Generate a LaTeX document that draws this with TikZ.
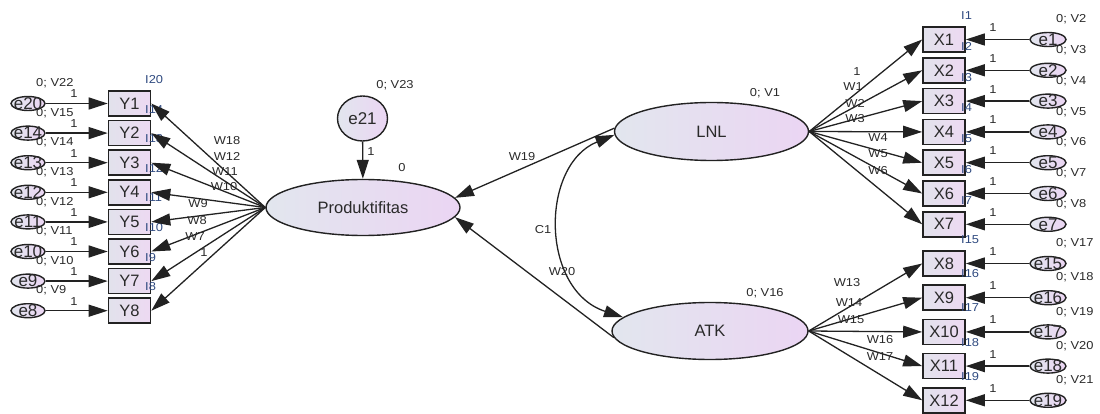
\documentclass[tikz,border=0pt]{standalone}
\usepackage{fontspec}
\setmainfont{Liberation Sans}
\newfontfamily\lblf[FakeStretch=1.12]{Liberation Sans}
\usetikzlibrary{arrows.meta,shapes.geometric,calc}
\definecolor{boxL}{HTML}{E2E2EC}
\definecolor{boxR}{HTML}{EDD9F2}
\definecolor{latL}{HTML}{E2E6EE}
\definecolor{latR}{HTML}{EBD5F3}
\definecolor{lnc}{HTML}{222222}
\definecolor{txt}{HTML}{2A2A2A}
\definecolor{icpt}{HTML}{2F4A80}
\tikzset{
  obsbox/.style={draw=lnc, line width=1.6pt, rectangle, minimum width=42pt, minimum height=25pt, inner sep=0pt, left color=boxL, right color=boxR, font=\fontsize{16.5}{18}\selectfont, text=txt},
  errell/.style={draw=lnc, line width=1.4pt, ellipse, minimum width=34pt, minimum height=14pt, inner sep=0pt, left color=latL, right color=latR},
  errtxt/.style={font=\fontsize{17}{18}\selectfont, text=txt, inner sep=0pt},
  latell/.style={draw=lnc, line width=1.4pt, ellipse, minimum width=194pt, minimum height=56pt, inner sep=0pt, left color=latL, right color=latR, font=\fontsize{16.5}{18}\selectfont, text=txt},
  arr/.style={line width=1.3pt, draw=lnc, -{Triangle[length=19pt,width=12pt]}},
  dblarr/.style={line width=1.3pt, draw=lnc, {Triangle[length=19pt,width=12pt]}-{Triangle[length=19pt,width=12pt]}},
  lbl/.style={font=\lblf\fontsize{11.5}{12}\selectfont, text=txt, inner sep=0pt},
  ilbl/.style={lbl, text=icpt, anchor=west}
}
\begin{document}
\begin{tikzpicture}[x=1pt,y=-1pt]
\useasboundingbox (0,0) rectangle (1100,414);
% latent variables
\node[latell] (Prod) at (363,207.5) {Produktifitas};
\node[latell, minimum height=58pt] (LNL) at (711.5,131.5) {LNL};
\node[latell, minimum width=196pt, minimum height=57pt] (ATK) at (710,331) {ATK};
\node[errell, minimum width=50pt, minimum height=45pt, label={[errtxt]center:e21}] (e21) at (362.5,118.5) {};
\node[lbl] (v23) at (395,85) {0; V23};
\node[lbl] (o21) at (371,152) {1};
\node[lbl] (p0) at (402,168) {0};
\node[lbl] (v1) at (765,93) {0; V1};
\node[lbl] (v16) at (765,293) {0; V16};
\draw[arr] (e21) -- (Prod);
% left indicators
\foreach \n/\e/\v/\ic/\y in {1/e20/V22/I20/103.5, 2/e14/V15/I14/133.1, 3/e13/V14/I13/162.7, 4/e12/V13/I12/192.3, 5/e11/V12/I11/221.9, 6/e10/V11/I10/251.5, 7/e9/V10/I9/281.1, 8/e8/V9/I8/310.7}{
  \node[obsbox] (Y\n) at (129.5,\y) {Y\n};
  \node[errell, label={[errtxt]center:\e}] (\e) at (28,\y) {};
  \node[lbl, anchor=west] (v\e) at (36,\y-20) {0; \v};
  \node[lbl] (o\e) at (74,\y-9.5) {1};
  \node[ilbl] (iY\n) at (145,\y-24) {\ic};
}
\foreach \n/\e in {1/e20,2/e14,3/e13,4/e12,5/e11,6/e10,7/e9,8/e8}{
  \draw[arr] (\e) -- (Y\n);
}
\foreach \n/\w/\x/\y in {1/W18/227/141, 2/W12/227/156, 3/W11/225/172, 4/W10/224/187, 5/W9/198/204, 6/W8/197/221, 7/W7/195/237, 8/1/204/253}{
  \draw[arr] (Prod.west) -- (Y\n.east);
  \node[lbl] (wY\n) at (\x,\y) {\w};
}
% right indicators
\foreach \n/\e/\v/\ic/\y in {1/e1/V2/I1/39.5, 2/e2/V3/I2/70.3, 3/e3/V4/I3/101.1, 4/e4/V5/I4/131.9, 5/e5/V6/I5/162.7, 6/e6/V7/I6/193.5, 7/e7/V8/I7/224.3, 8/e15/V17/I15/263.5, 9/e16/V18/I16/297.7, 10/e17/V19/I17/331.9, 11/e18/V20/I18/366.1, 12/e19/V21/I19/400.3}{
  \node[obsbox] (X\n) at (944,\y) {X\n};
  \node[errell, minimum width=36pt, label={[errtxt]center:\e}] (\e) at (1048,\y) {};
  \node[lbl, anchor=west] (v\e) at (1056,\y-20) {0; \v};
  \node[lbl] (o\e) at (993,\y-12) {1};
  \node[ilbl] (iX\n) at (961,\y-24) {\ic};
}
\foreach \n/\e in {1/e1,2/e2,3/e3,4/e4,5/e5,6/e6,7/e7,8/e15,9/e16,10/e17,11/e18,12/e19}{
  \draw[arr] (\e) -- (X\n);
}
\foreach \n/\w/\x/\y in {1/1/857/72, 2/W1/853/87, 3/W2/855/103, 4/W3/855/119, 5/W4/878/138, 6/W5/878/154, 7/W6/878/171}{
  \draw[arr] (LNL.east) -- (X\n.west);
  \node[lbl] (wX\n) at (\x,\y) {\w};
}
\foreach \n/\w/\x/\y in {8/W13/847/283, 9/W14/849/303, 10/W15/851/320, 11/W16/880/340, 12/W17/880/357}{
  \draw[arr] (ATK.east) -- (X\n.west);
  \node[lbl] (wX\n) at (\x,\y) {\w};
}
% structural paths
\draw[arr] (LNL.178) -- (Prod.6);
\draw[arr] (ATK.184) -- (Prod.-6);
\draw[dblarr] (LNL.182) .. controls (540,165) and (540,290) .. (ATK.171);
\node[lbl] (w19) at (522,157) {W19};
\node[lbl] (c1) at (543,230) {C1};
\node[lbl] (w20) at (562,272) {W20};
\end{tikzpicture}
\end{document}
